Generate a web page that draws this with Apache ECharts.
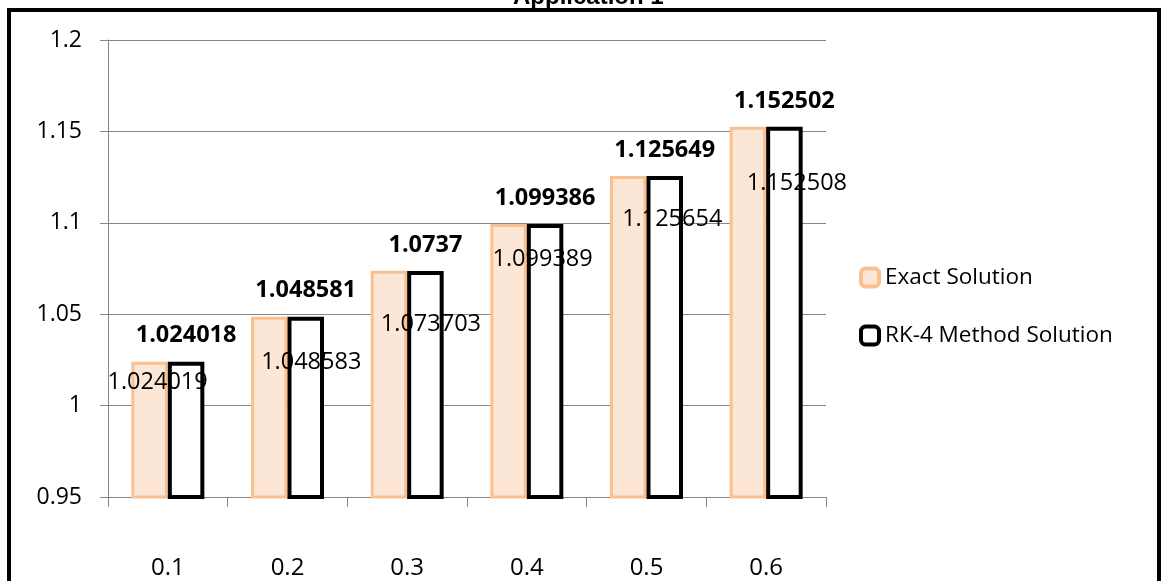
<!DOCTYPE html>
<html>
<head>
<meta charset="utf-8">
<title>Application 1</title>
<script src="https://cdn.jsdelivr.net/npm/echarts@6/dist/echarts.min.js"></script>
<style>
  html, body { margin: 0; padding: 0; background: #ffffff; }
  #chart { width: 1164px; height: 581px; }
</style>
</head>
<body>
<div id="chart"></div>
<script>
// Step sizes along x
const categories = ['0.1', '0.2', '0.3', '0.4', '0.5', '0.6'];
// Exact solution values
const exactSolution = [1.024019, 1.048583, 1.073703, 1.099389, 1.125654, 1.152508];
// RK-4 method solution values
const rk4Solution = [1.024018, 1.048581, 1.0737, 1.099386, 1.125649, 1.152502];
// Value axis range
const yMin = 0.95;
const yMax = 1.2;
const yStep = 0.05;

// Hand-placed label nudges for the exact-solution labels [dx, dy] from the bar top centre
const exactLabelNudge = [[8, 21], [42, 46], [42, 53], [34, 35], [44, 43], [49, 56]];

const FONT = '"Open Sans", "Noto Sans", sans-serif';
const AXIS_GREY = '#868686';
const LABEL_SIZE = 23.5;

const chart = echarts.init(document.getElementById('chart'), null, { renderer: 'canvas' });

const fmt = v => String(+v.toFixed(6));

const option = {
  animation: false,
  backgroundColor: '#ffffff',
  title: {
    text: 'Application 1',
    left: 513,
    top: -15,
    padding: 0,
    textStyle: {
      fontFamily: '"Liberation Sans", Arial, sans-serif',
      fontWeight: 'bold',
      fontSize: 24,
      color: '#000000'
    }
  },
  graphic: [{
    type: 'rect',
    z: 100,
    silent: true,
    shape: { x: 9, y: 10, width: 1150, height: 620 },
    style: { fill: 'none', stroke: '#000000', lineWidth: 4 }
  }],
  legend: {
    orient: 'vertical',
    left: 854,
    top: 261,
    itemWidth: 18,
    itemHeight: 18,
    itemGap: 35,
    icon: 'roundRect',
    textStyle: { fontFamily: FONT, fontSize: 22.5, color: '#000000', padding: [0, 0, 0, 1] },
    data: [
      { name: 'Exact Solution', itemStyle: { color: '#FCE6D6', borderColor: '#FAC090', borderWidth: 4 } },
      { name: 'RK-4 Method Solution', itemStyle: { color: '#ffffff', borderColor: '#000000', borderWidth: 4 } }
    ]
  },
  grid: { left: 108, right: 338, top: 40, bottom: 84, containLabel: false },
  xAxis: {
    type: 'category',
    data: categories,
    boundaryGap: true,
    axisLine: { lineStyle: { color: AXIS_GREY, width: 1 } },
    axisTick: { show: true, length: 10, alignWithLabel: false, lineStyle: { color: AXIS_GREY } },
    axisLabel: { margin: 59, fontFamily: FONT, fontSize: 24, color: '#000000' },
    splitLine: { show: false }
  },
  yAxis: {
    type: 'value',
    min: yMin,
    max: yMax,
    interval: yStep,
    axisLine: { show: true, lineStyle: { color: AXIS_GREY, width: 1 } },
    axisTick: { show: true, length: 8, lineStyle: { color: AXIS_GREY } },
    axisLabel: {
      margin: 26,
      fontFamily: FONT,
      fontSize: 23,
      color: '#000000',
      formatter: v => String(+v.toFixed(2))
    },
    splitLine: { show: true, lineStyle: { color: AXIS_GREY, width: 1 } }
  },
  series: [
    {
      name: 'Exact Solution',
      type: 'bar',
      barGap: '0%',
      barCategoryGap: '39%',
      itemStyle: { color: '#FCE6D6', borderColor: '#FAC090', borderWidth: 3 },
      data: exactSolution.map((v, i) => ({
        value: v,
        label: {
          show: true,
          position: ['50%', 0],
          align: 'center',
          verticalAlign: 'middle',
          offset: exactLabelNudge[i],
          formatter: p => fmt(p.value),
          fontFamily: FONT,
          fontSize: LABEL_SIZE,
          color: '#000000'
        }
      }))
    },
    {
      name: 'RK-4 Method Solution',
      type: 'bar',
      barGap: '0%',
      barCategoryGap: '39%',
      itemStyle: { color: '#ffffff', borderColor: '#000000', borderWidth: 4 },
      label: {
        show: true,
        position: 'top',
        distance: 14,
        formatter: p => fmt(p.value),
        fontFamily: FONT,
        fontWeight: 'bold',
        fontSize: LABEL_SIZE,
        color: '#000000'
      },
      data: rk4Solution
    }
  ]
};

chart.setOption(option);
</script>
</body>
</html>
